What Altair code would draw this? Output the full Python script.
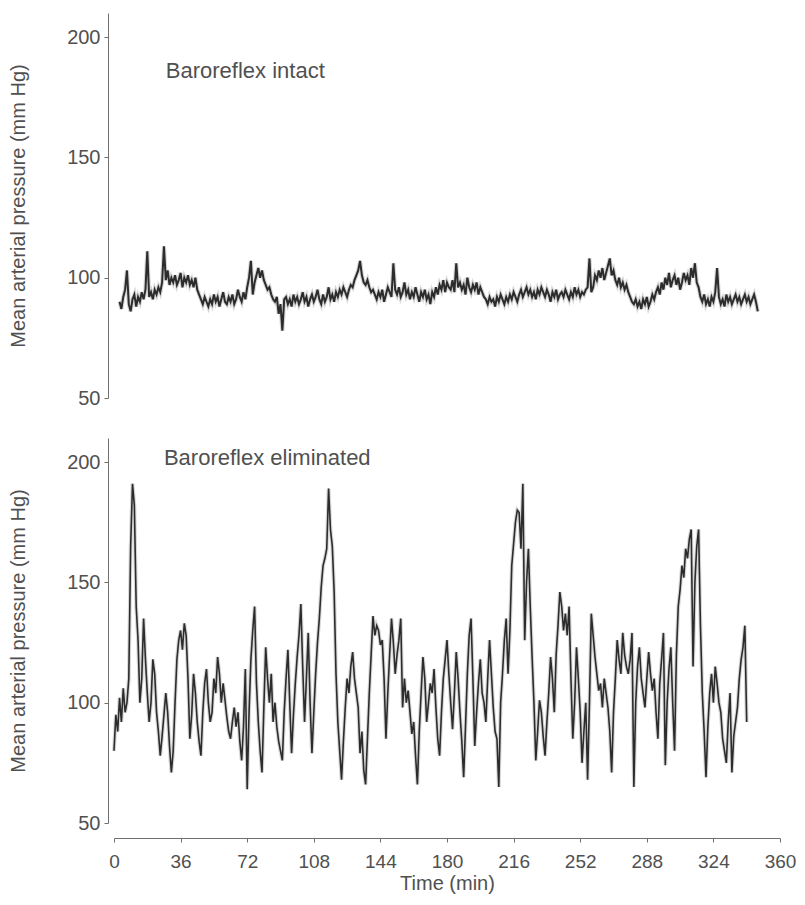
import altair as alt
import pandas as pd

# ---- data (mean arterial pressure, mm Hg, ~1 value per minute) ----
top_start = 3
top_vals = [
    90, 87, 92, 95, 103, 89, 86, 91, 93, 88,
    92, 90, 94, 91, 95, 111, 92, 94, 91, 95,
    93, 96, 94, 98, 113, 99, 103, 97, 100, 98,
    101, 97, 99, 102, 96, 100, 98, 101, 97, 99,
    96, 100, 95, 93, 91, 89, 92, 90, 88, 91,
    89, 93, 90, 92, 88, 91, 94, 90, 89, 92,
    90, 93, 89, 91, 95, 92, 90, 94, 91, 96,
    100, 107, 93, 98, 101, 104, 100, 103, 99, 97,
    95, 96, 93, 91, 90, 92, 85, 89, 78, 91,
    92, 89, 91, 88, 93, 90, 92, 89, 91, 94,
    90, 92, 88, 91, 93, 90, 92, 95, 91, 89,
    93, 90, 92, 96, 91, 93, 90, 94, 92, 95,
    93, 96, 94, 92, 95, 97, 96, 99, 101, 103,
    107, 101, 98, 97, 99, 96, 94, 95, 93, 91,
    94, 92, 95, 90, 93, 96, 94, 92, 106, 95,
    93, 96, 92, 94, 98, 93, 95, 91, 94, 92,
    96, 93, 90, 94, 92, 95, 91, 93, 89, 94,
    92, 96, 93, 97, 95, 99, 94, 98, 96, 95,
    99, 94, 106, 96, 98, 95, 97, 93, 100, 96,
    94, 97, 95, 98, 93, 96, 94, 92, 91, 89,
    92, 90, 91, 88, 92, 90, 93, 91, 89, 92,
    90, 93, 91, 94, 92, 90, 93, 95, 92, 94,
    96, 93, 95, 92, 94, 91, 95, 93, 96, 94,
    92, 95, 93, 90, 94, 92, 95, 91, 93, 94,
    92, 95, 93, 91, 94, 92, 96, 93, 95, 92,
    94, 93, 95, 96, 108, 94, 96, 101, 99, 103,
    100, 104, 99, 102, 105, 108, 101, 103, 99, 97,
    100, 96, 98, 95, 97, 94, 92, 90, 89, 91,
    88, 90, 87, 91, 89, 92, 88, 90, 93, 91,
    94, 96, 93, 98, 95, 100, 97, 102, 96, 99,
    101, 97, 100, 95, 98, 102, 99, 101, 97, 104,
    100, 106, 98, 96, 92, 90, 93, 89, 91, 88,
    92, 90, 94, 104, 92, 89, 91, 88, 93, 90,
    92, 89, 91, 93, 90, 92, 89, 91, 93, 90,
    92, 89, 91, 93, 90, 86,
]

bot_start = 0
bot_vals = [
    80, 95, 88, 102, 92, 106, 96, 100, 110, 165,
    191, 182, 140, 126, 100, 110, 135, 118, 104, 92,
    100, 118, 112, 96, 88, 78, 86, 95, 104, 96,
    82, 71, 80, 100, 118, 126, 130, 122, 133, 128,
    110, 85, 95, 112, 104, 92, 84, 78, 96, 108,
    114, 100, 92, 96, 110, 104, 119, 112, 100, 108,
    101, 94, 88, 85, 92, 98, 90, 96, 84, 76,
    90, 114, 64, 96, 118, 130, 140, 108, 92, 80,
    71, 98, 123, 110, 100, 112, 92, 100, 90, 84,
    80, 76, 96, 110, 122, 100, 79, 95, 108, 119,
    128, 141, 115, 92, 110, 129, 100, 79, 96, 112,
    125, 135, 148, 157, 160, 164, 189, 172, 165, 146,
    112, 92, 80, 68, 84, 98, 110, 104, 115, 121,
    110, 104, 98, 79, 88, 72, 66, 85, 104, 120,
    136, 128, 132, 130, 124, 126, 110, 85, 104, 120,
    135, 125, 112, 120, 126, 135, 98, 110, 100, 105,
    96, 87, 92, 78, 66, 88, 104, 119, 110, 92,
    100, 108, 104, 114, 98, 85, 78, 96, 110, 118,
    126, 112, 100, 89, 104, 121, 110, 96, 84, 69,
    90, 112, 128, 135, 110, 82, 96, 108, 118, 104,
    100, 92, 110, 126, 112, 98, 88, 85, 65, 100,
    112, 126, 135, 112, 130, 157, 166, 175, 180, 179,
    164, 191, 126, 150, 164, 140, 119, 100, 76, 88,
    101, 96, 86, 78, 92, 104, 119, 110, 96, 120,
    132, 146, 140, 130, 137, 128, 140, 110, 85, 100,
    123, 110, 96, 75, 88, 100, 68, 100, 137, 128,
    119, 112, 105, 108, 98, 110, 104, 98, 88, 71,
    96, 110, 126, 118, 112, 129, 120, 115, 112, 118,
    129, 65, 100, 115, 123, 110, 104, 98, 110, 121,
    112, 105, 110, 96, 85, 108, 118, 129, 74, 100,
    114, 123, 100, 80, 120, 140, 147, 157, 152, 164,
    160, 168, 172, 115, 150, 165, 172, 132, 104, 88,
    69, 90, 104, 112, 100, 115, 108, 100, 96, 85,
    80, 75, 92, 104, 71, 86, 92, 98, 110, 118,
    123, 132, 92,
]

x_ticks = [0, 36, 72, 108, 144, 180, 216, 252, 288, 324, 360]
y_ticks = [50, 100, 150, 200]
panel_labels = ["Baroreflex intact", "Baroreflex eliminated"]
label_pos_t = [28, 27]
label_pos_p = [186, 201.5]

top_df = pd.DataFrame({"t": [top_start + i for i in range(len(top_vals))], "p": top_vals})
bot_df = pd.DataFrame({"t": [bot_start + i for i in range(len(bot_vals))], "p": bot_vals})

FONT = "Liberation Sans"
TXT = "#505050"
AX = "#707070"
W, H = 666, 385

xscale = alt.Scale(domain=[0, 360], nice=False, zero=False)
yscale = alt.Scale(domain=[50, 210], nice=False, zero=False)

yaxis = alt.Axis(values=y_ticks, title="Mean arterial pressure (mm Hg)", offset=6,
                 tickSize=4, labelFontSize=20, titleFontSize=20, labelFont=FONT, titleFont=FONT,
                 labelColor=TXT, titleColor=TXT, domainColor=AX, tickColor=AX,
                 titleFontWeight="normal", grid=False, labelPadding=4, titlePadding=38,
                 labelFlush=False)


def panel(df, label, lt, lp, show_x, sw):
    if show_x:
        xaxis = alt.Axis(values=x_ticks, title="Time (min)", offset=15, tickSize=4,
                         labelFontSize=19, titleFontSize=20, labelFont=FONT, titleFont=FONT,
                         labelColor=TXT, titleColor=TXT, domainColor=AX, tickColor=AX,
                         titleFontWeight="normal", grid=False, labelPadding=10, titlePadding=2,
                         labelFlush=False)
    else:
        xaxis = None
    base = alt.Chart(df)
    halo = base.mark_line(color="#9a9a9a", strokeWidth=sw + 2.2, opacity=0.4).encode(
        x=alt.X("t:Q", scale=xscale, axis=xaxis),
        y=alt.Y("p:Q", scale=yscale, axis=yaxis),
    )
    line = base.mark_line(color="#2c2c2c", strokeWidth=sw).encode(
        x=alt.X("t:Q", scale=xscale, axis=xaxis),
        y=alt.Y("p:Q", scale=yscale, axis=yaxis),
    )
    txt = alt.Chart(pd.DataFrame({"t": [lt], "p": [lp], "s": [label]})).mark_text(
        align="left", baseline="middle", font=FONT, fontSize=22, color=TXT
    ).encode(x=alt.X("t:Q", scale=xscale), y=alt.Y("p:Q", scale=yscale), text="s:N")
    return (halo + line + txt).properties(width=W, height=H)


top = panel(top_df, panel_labels[0], label_pos_t[0], label_pos_p[0], False, 2.0)
bot = panel(bot_df, panel_labels[1], label_pos_t[1], label_pos_p[1], True, 1.6)

chart = alt.vconcat(top, bot, spacing=30).configure(
    padding={"left": 0, "top": 5, "right": 0, "bottom": 2}, background="white"
).configure_view(stroke=None)

chart.save("out.html", embed_options={"renderer": "svg", "actions": False})
